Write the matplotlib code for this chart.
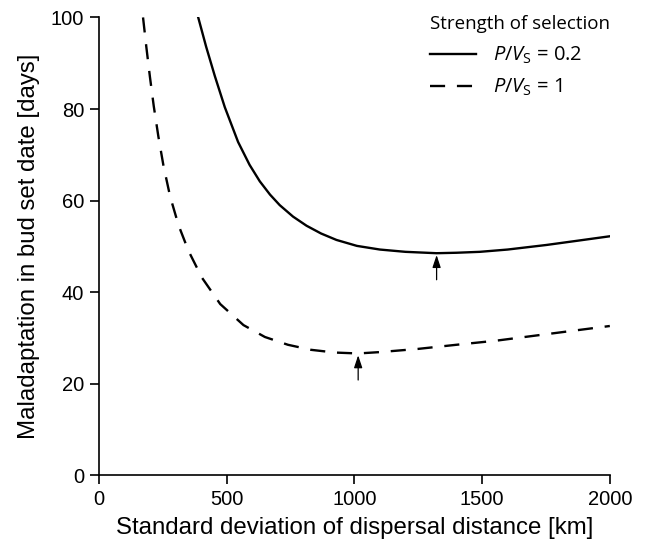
import matplotlib
matplotlib.use("Agg")
import matplotlib.pyplot as plt

# solid curve, P/Vs = 0.2
km_weak = [389, 420, 454, 493, 545, 590, 630, 670, 708, 760, 813, 870, 930,
           1010, 1100, 1200, 1322, 1400, 1491, 1600, 1752, 1870, 2000]
mal_weak = [100, 93.6, 87.2, 80.4, 72.8, 67.8, 64.2, 61.3, 59.0, 56.5, 54.5,
            52.8, 51.4, 50.1, 49.3, 48.8, 48.5, 48.6, 48.8, 49.3, 50.3, 51.2, 52.2]

# dashed curve, P/Vs = 1
km_strong = [173, 186, 200, 215, 233, 253, 279, 312, 351, 403, 475, 566, 650,
             740, 830, 924, 1015, 1100, 1250, 1400, 1556, 1750, 2000]
mal_strong = [100, 93.5, 87.0, 80.6, 74.0, 67.6, 60.9, 54.6, 49.0, 43.2, 37.4,
              32.8, 30.2, 28.5, 27.4, 26.8, 26.6, 26.9, 27.6, 28.5, 29.4, 30.8, 32.6]

# minima marked with arrows
min_km = [1322, 1015]
min_val = [48.5, 26.6]

xticks = [0, 500, 1000, 1500, 2000]
yticks = [0, 20, 40, 60, 80, 100]

plt.rcParams['font.family'] = ['Liberation Sans', 'DejaVu Sans']
plt.rcParams['mathtext.fontset'] = 'custom'
plt.rcParams['mathtext.rm'] = 'Open Sans'
plt.rcParams['mathtext.it'] = 'Open Sans:italic'

fig = plt.figure(figsize=(6.46, 5.45), dpi=100)
ax = fig.add_axes([0.153, 0.128, 0.791, 0.840])

ax.plot(km_weak, mal_weak, color='black', lw=1.7, label=r'$P/V_{\mathrm{S}}$ = 0.2')
ax.plot(km_strong, mal_strong, color='black', lw=1.7, dashes=(6.4, 5.0),
        label=r'$P/V_{\mathrm{S}}$ = 1')

for xm, ym in zip(min_km, min_val):
    ax.annotate('', xy=(xm, ym - 0.4), xytext=(xm, ym - 5.8),
                arrowprops=dict(arrowstyle='-|>,head_length=0.75,head_width=0.25',
                                color='black', lw=0.9, shrinkA=0, shrinkB=0))

ax.set_xlim(0, 2000)
ax.set_ylim(0, 100)
ax.set_xticks(xticks)
ax.set_yticks(yticks)
ax.spines['top'].set_visible(False)
ax.spines['right'].set_visible(False)
ax.spines['left'].set_linewidth(1.2)
ax.spines['bottom'].set_linewidth(1.2)
ax.tick_params(direction='out', length=6.5, width=1.2, labelsize=14.5, pad=4)

ax.set_xlabel('Standard deviation of dispersal distance [km]', fontsize=17.3, labelpad=6)
ax.set_ylabel('Maladaptation in bud set date [days]', fontsize=17.3, labelpad=8)

leg = ax.legend(title='Strength of selection', loc='upper right', frameon=False,
                alignment='left', handlelength=2.3, handletextpad=0.85,
                borderaxespad=0.0, borderpad=0.0, labelspacing=0.52,
                prop={'family': 'Open Sans', 'size': 14.5},
                bbox_to_anchor=(1.0, 1.006))
leg.get_title().set_fontfamily('Open Sans')
leg.get_title().set_fontsize(13.5)
leg._legend_box.sep = 9

fig.savefig('out.png', dpi=100)
